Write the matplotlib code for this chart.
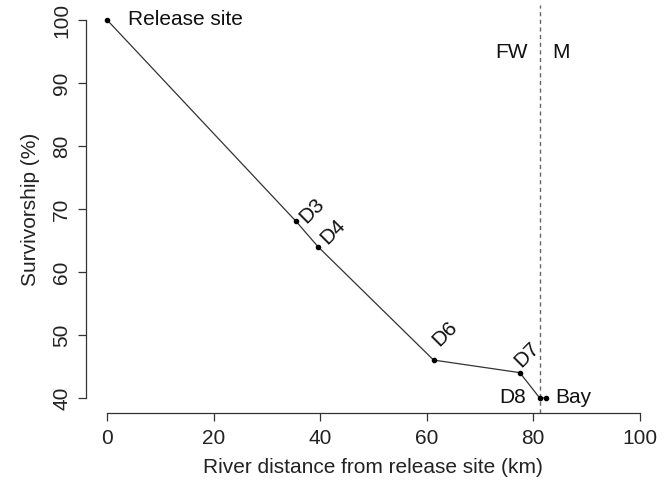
import matplotlib
matplotlib.use("Agg")
import matplotlib.pyplot as plt

plt.rcParams['font.family'] = ['Liberation Sans', 'DejaVu Sans']

# Detection sites along the river
sites = ["Release site", "D3", "D4", "D6", "D7", "D8", "Bay"]
distance_km = [0, 35.5, 39.6, 61.3, 77.5, 81.2, 82.5]
survival_pct = [100, 68, 64, 46, 44, 40, 40]
boundary_km = 81.3  # freshwater / marine boundary

x_ticks = [0, 20, 40, 60, 80, 100]
y_ticks = [40, 50, 60, 70, 80, 90, 100]

FS = 15

fig = plt.figure(figsize=(6.65, 4.83), dpi=100)
ax = fig.add_axes([0.129, 0.145, 0.865, 0.845])

ax.plot(distance_km, survival_pct, color="#333333", lw=0.9, zorder=2)
ax.scatter(distance_km, survival_pct, s=9, color="black", zorder=3)

ax.axvline(boundary_km, color="#666666", lw=1, ls=(0, (3, 2.5)), zorder=1)

ax.set_xlim(-4, 104)
ax.set_ylim(37.6, 102.4)

for s in ["top", "right"]:
    ax.spines[s].set_visible(False)
ax.spines["left"].set_bounds(40, 100)
ax.spines["bottom"].set_bounds(0, 100)
for s in ["left", "bottom"]:
    ax.spines[s].set_color("#333333")
    ax.spines[s].set_linewidth(0.9)

ax.set_xticks(x_ticks)
ax.set_yticks(y_ticks)
ax.tick_params(axis="both", labelsize=FS, length=6, width=0.9, color="#333333",
               labelcolor="#222222")
ax.tick_params(axis="x", pad=5.5)
ax.tick_params(axis="y", pad=4.5)
for lab in ax.get_yticklabels():
    lab.set_rotation(90)
    lab.set_va("center")

ax.set_xlabel("River distance from release site (km)", fontsize=FS, color="#222222", labelpad=7)
ax.set_ylabel("Survivorship (%)", fontsize=FS, color="#222222", labelpad=9)

# Site labels
tc = "#111111"
ax.annotate(sites[0], (distance_km[0], survival_pct[0]), xytext=(21, 0),
            textcoords="offset pixels", ha="left", va="center", fontsize=FS, color=tc)
rot_offsets = {1: (16, 11), 2: (15, 15), 3: (11, 26), 4: (7, 18)}
for i, (dx, dy) in rot_offsets.items():
    ax.annotate(sites[i], (distance_km[i], survival_pct[i]), xytext=(dx, dy),
                textcoords="offset pixels", ha="center", va="center",
                rotation=45, rotation_mode="anchor", fontsize=FS, color=tc)
ax.annotate(sites[5], (distance_km[5], survival_pct[5]), xytext=(-14, 0),
            textcoords="offset pixels", ha="right", va="center", fontsize=FS, color=tc)
ax.annotate(sites[6], (distance_km[6], survival_pct[6]), xytext=(9, 0),
            textcoords="offset pixels", ha="left", va="center", fontsize=FS, color=tc)

ax.text(boundary_km - 5.3, 94.9, "FW", ha="center", va="center", fontsize=FS, color=tc)
ax.text(boundary_km + 3.9, 94.9, "M", ha="center", va="center", fontsize=FS, color=tc)

fig.savefig("out.png", dpi=100)
